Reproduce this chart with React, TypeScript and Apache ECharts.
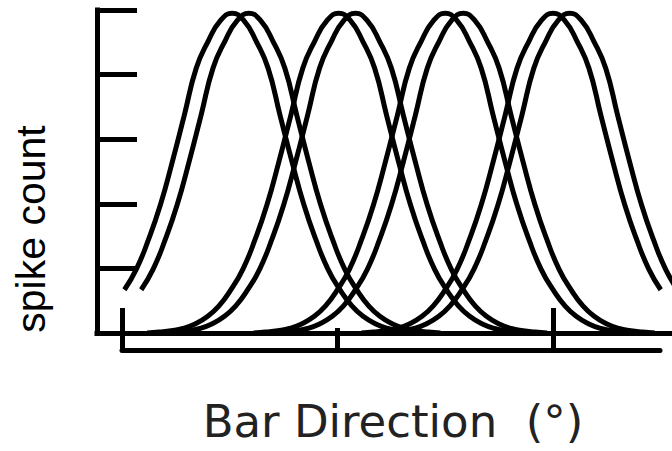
import React, { useEffect, useRef } from "react";
import * as echarts from "echarts";

// Tuning-curve profile: spike count vs. offset (deg) from the preferred direction
const PROFILE_OFFSETS = [0, 10, 20, 30, 40, 50, 60, 70, 80, 90, 100, 110, 120, 130, 140, 150, 160];
const PROFILE_VALUES = [4.95, 4.83, 4.52, 4.1, 3.37, 2.65, 1.98, 1.44, 0.99, 0.67, 0.42, 0.25, 0.14, 0.07, 0.035, 0.015, 0];

// Preferred directions (deg) of the eight curves (four close pairs)
const PREFERRED = [92, 106, 181, 195, 270, 285, 360, 374];
// Visible range of each curve, as offsets from its preferred direction
const START_OFFSET = [-90, -90, -160, -160, -160, -160, -160, -160];
const END_OFFSET = [160, 160, 160, 160, 160, 160, 90, 90];

// Axis ticks
const Y_TICKS = [0, 1, 2, 3, 4, 5];
const X_LONG_TICKS = [0, 360];
const X_SHORT_TICKS = [180];

const Y_LABEL = "spike count";
const X_LABEL = "Bar Direction  (°)";

function curvePoints(i: number): [number, number][] {
  const pts: [number, number][] = [];
  const offs: number[] = [];
  for (let k = PROFILE_OFFSETS.length - 1; k > 0; k--) offs.push(-PROFILE_OFFSETS[k]);
  for (let k = 0; k < PROFILE_OFFSETS.length; k++) offs.push(PROFILE_OFFSETS[k]);
  for (const o of offs) {
    if (o < START_OFFSET[i] || o > END_OFFSET[i]) continue;
    const v = PROFILE_VALUES[PROFILE_OFFSETS.indexOf(Math.abs(o))];
    pts.push([PREFERRED[i] + o, v]);
  }
  return pts;
}

export default function App() {
  const ref = useRef<HTMLDivElement>(null);
  useEffect(() => {
    if (!ref.current) return;
    const chart = echarts.init(ref.current, null, { renderer: "svg" });
    const black = "#000";
    const series = PREFERRED.map((_, i) => ({
      type: "line",
      xAxisIndex: 0,
      yAxisIndex: 0,
      data: curvePoints(i),
      showSymbol: false,
      smooth: true,
      lineStyle: { color: black, width: 5 },
      z: 3,
    }));
    chart.setOption({
      animation: false,
      backgroundColor: "#fff",
      grid: [
        { left: 97, top: 10, right: 0, bottom: 118 },
        { left: 122, top: 10, width: 538, bottom: 101 },
      ],
      xAxis: [
        {
          type: "value",
          gridIndex: 0,
          position: "bottom",
          min: -20.9,
          max: 459.4,
          axisLine: { show: true, onZero: false, lineStyle: { color: black, width: 5, cap: "square" } },
          axisTick: { show: false },
          axisLabel: { show: false },
          splitLine: { show: false },
        },
        {
          type: "value",
          gridIndex: 1,
          position: "bottom",
          min: 0,
          max: 449.4,
          axisLine: { show: true, onZero: false, lineStyle: { color: black, width: 5 } },
          axisTick: { show: true, inside: true, length: 42, customValues: X_LONG_TICKS, lineStyle: { color: black, width: 5 } },
          axisLabel: { show: false },
          splitLine: { show: false },
        },
        {
          type: "value",
          gridIndex: 1,
          position: "bottom",
          offset: 0,
          min: 0,
          max: 449.4,
          axisLine: { show: false, onZero: false },
          axisTick: { show: true, inside: true, length: 22, customValues: X_SHORT_TICKS, lineStyle: { color: black, width: 5 } },
          axisLabel: { show: false },
          splitLine: { show: false },
        },
      ],
      yAxis: [
        {
          type: "value",
          gridIndex: 0,
          min: 0,
          max: 5,
          interval: 1,
          axisLine: { show: true, onZero: false, lineStyle: { color: black, width: 5, cap: "square" } },
          axisTick: { show: true, inside: true, length: 40, customValues: Y_TICKS, lineStyle: { color: black, width: 5 } },
          axisLabel: { show: false },
          splitLine: { show: false },
        },
        {
          type: "value",
          gridIndex: 1,
          show: false,
          min: 0,
          max: 5,
        },
      ],
      series,
      graphic: [
        {
          type: "text",
          x: 31,
          y: 229,
          rotation: Math.PI / 2,
          style: {
            text: Y_LABEL,
            font: "41px 'Liberation Sans', Arial, sans-serif",
            fill: "#000",
            align: "center",
            verticalAlign: "middle",
          },
        },
        {
          type: "text",
          x: 393,
          y: 421,
          style: {
            text: X_LABEL,
            font: "45px 'DejaVu Sans', sans-serif",
            fill: "#222",
            align: "center",
            verticalAlign: "middle",
          },
        },
      ],
    });
    return () => chart.dispose();
  }, []);
  return (
    <div
      ref={ref}
      style={{ position: "fixed", left: 0, top: 0, width: 672, height: 451, background: "#fff" }}
    />
  );
}
